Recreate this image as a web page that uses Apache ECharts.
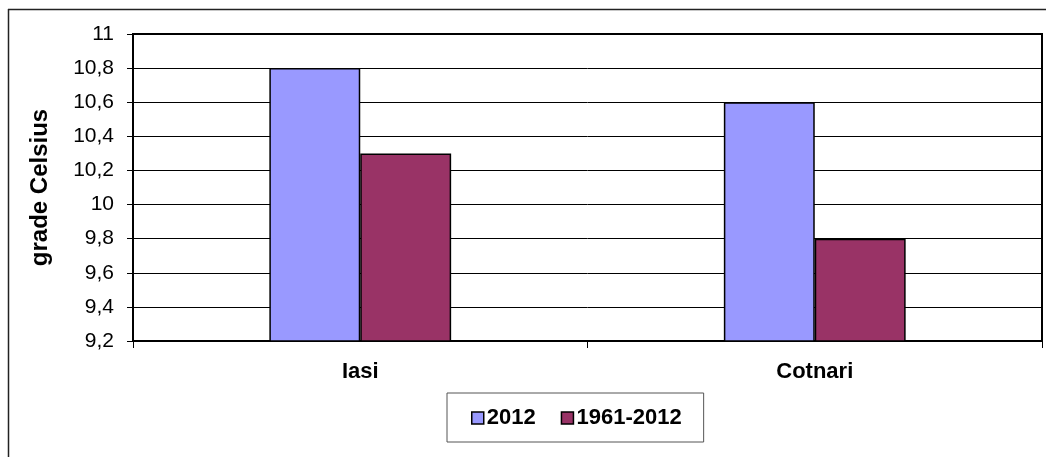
<!DOCTYPE html>
<html>
<head>
<meta charset="utf-8">
<script src="https://cdn.jsdelivr.net/npm/echarts@6/dist/echarts.min.js"></script>
<style>
  html, body { margin: 0; padding: 0; background: #fff; }
  #chart { width: 1046px; height: 457px; }
</style>
</head>
<body>
<div id="chart"></div>
<script>
// date
const categories = ['Iasi', 'Cotnari'];
const seriesNames = ['2012', '1961-2012'];
const values2012 = [10.8, 10.6];
const values1961_2012 = [10.3, 9.8];
const yMin = 9.2, yMax = 11, yStep = 0.2;

const fontFam = '"Liberation Sans", Arial, sans-serif';

let myChart = echarts.init(document.getElementById('chart'));
myChart.setOption({
  animation: false,
  backgroundColor: '#fff',
  textStyle: { fontFamily: fontFam, color: '#000' },
  graphic: [
    { type: 'line', shape: { x1: 8.5, y1: 9, x2: 8.5, y2: 457 }, style: { stroke: '#222', lineWidth: 1.5 } },
    { type: 'line', shape: { x1: 8, y1: 9.5, x2: 1046, y2: 9.5 }, style: { stroke: '#222', lineWidth: 1.5 } }
  ],
  grid: {
    left: 133, right: 4, top: 34, bottom: 116,
    show: true, borderColor: '#000', borderWidth: 2
  },
  legend: {
    data: seriesNames,
    left: 447, top: 393,
    padding: [14, 22, 13, 24],
    borderColor: '#555', borderWidth: 1,
    itemWidth: 12, itemHeight: 12, itemGap: 25,
    icon: 'rect',
    itemStyle: { borderColor: '#000', borderWidth: 1.5 },
    textStyle: { fontSize: 22, fontWeight: 'bold', fontFamily: fontFam, color: '#000', padding: [0, 0, 0, -2] }
  },
  xAxis: {
    type: 'category',
    data: categories,
    axisLine: { lineStyle: { color: '#000', width: 2 } },
    axisTick: { show: true, length: 7, lineStyle: { color: '#000', width: 1 } },
    axisLabel: { margin: 20, fontSize: 22, fontWeight: 'bold', color: '#000' }
  },
  yAxis: {
    type: 'value',
    min: yMin, max: yMax, interval: yStep,
    name: 'grade Celsius',
    nameLocation: 'middle',
    nameRotate: 90,
    nameGap: 81,
    nameTextStyle: { fontSize: 24, fontWeight: 'bold', color: '#000' },
    axisLine: { show: true, lineStyle: { color: '#000', width: 2 } },
    axisTick: { show: true, length: 6, lineStyle: { color: '#000' } },
    splitLine: { lineStyle: { color: '#000', width: 1 } },
    axisLabel: {
      margin: 19, fontSize: 21, fontFamily: fontFam, color: '#000',
      formatter: v => String(parseFloat(v.toFixed(1))).replace('.', ',')
    }
  },
  series: [
    {
      name: seriesNames[0],
      type: 'bar',
      data: values2012,
      barGap: '0%',
      barCategoryGap: '60%',
      itemStyle: { color: '#9999FF', borderColor: '#000', borderWidth: 1.5 }
    },
    {
      name: seriesNames[1],
      type: 'bar',
      data: values1961_2012,
      itemStyle: { color: '#993366', borderColor: '#000', borderWidth: 1.5 }
    }
  ]
});
</script>
</body>
</html>
